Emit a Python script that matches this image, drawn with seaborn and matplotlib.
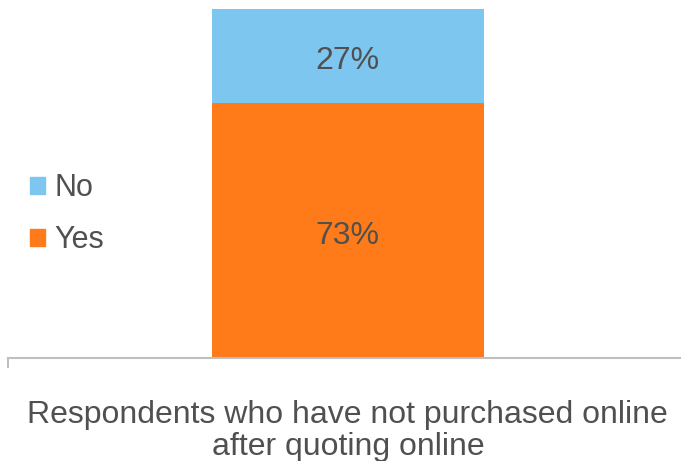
import matplotlib
matplotlib.use("Agg")
import matplotlib.pyplot as plt
import seaborn as sns
import pandas as pd
from matplotlib.patches import Patch

category = ["Respondents who have not purchased online\nafter quoting online"]
series = ["No", "Yes"]
no_vals = [27]
yes_vals = [73]
colors = {"No": "#7DC6F0", "Yes": "#FF7B19"}
txt = "#505050"

sns.set_theme(style="white")
plt.rcParams["font.family"] = ["Liberation Sans", "DejaVu Sans"]

df = pd.DataFrame({"cat": category, "No": no_vals, "Yes": yes_vals})
df["total"] = df["No"] + df["Yes"]

fig = plt.figure(figsize=(6.81, 4.61), dpi=100)
ax = fig.add_axes([8 / 681, 103 / 461, 673 / 681, 349 / 461])

# stacked: full bar in blue, then yes-part in orange on top of it
sns.barplot(data=df, x="cat", y="total", color=colors["No"], width=0.404,
            saturation=1, linewidth=0, ax=ax)
sns.barplot(data=df, x="cat", y="Yes", color=colors["Yes"], width=0.404,
            saturation=1, linewidth=0, ax=ax)

ax.set_xlim(-0.505, 0.495)
ax.set_ylim(0, 100)
ax.set_xlabel("")
ax.set_ylabel("")
ax.set_yticks([])

for s in ["top", "right", "left"]:
    ax.spines[s].set_visible(False)
ax.spines["bottom"].set_color("#BFBFBF")
ax.spines["bottom"].set_linewidth(1.5)

ax.set_xticks([0])
ax.set_xticklabels(category, fontsize=23, color=txt, linespacing=1.08)
ax.tick_params(axis="x", length=0, pad=30)
ax.set_xticks([-0.505], minor=True)
ax.tick_params(axis="x", which="minor", bottom=True, length=7, width=1.5,
               color="#BFBFBF")

# slight downward nudge so the digits sit visually centred in each segment
nudge = 1.4
ax.text(0, df["Yes"][0] / 2 - nudge, f"{yes_vals[0]}%", ha="center",
        va="center", fontsize=23, color=txt)
ax.text(0, df["Yes"][0] + df["No"][0] / 2 - nudge, f"{no_vals[0]}%",
        ha="center", va="center", fontsize=23, color=txt)

handles = [Patch(color=colors[s]) for s in series]
fig.legend(handles, series, loc="center left", bbox_to_anchor=(0.044, 0.535),
           frameon=False, fontsize=22, handlelength=0.5, handleheight=0.5,
           handletextpad=0.3, labelspacing=0.72, labelcolor=txt,
           borderpad=0, borderaxespad=0)

fig.savefig("out.png", dpi=100)
